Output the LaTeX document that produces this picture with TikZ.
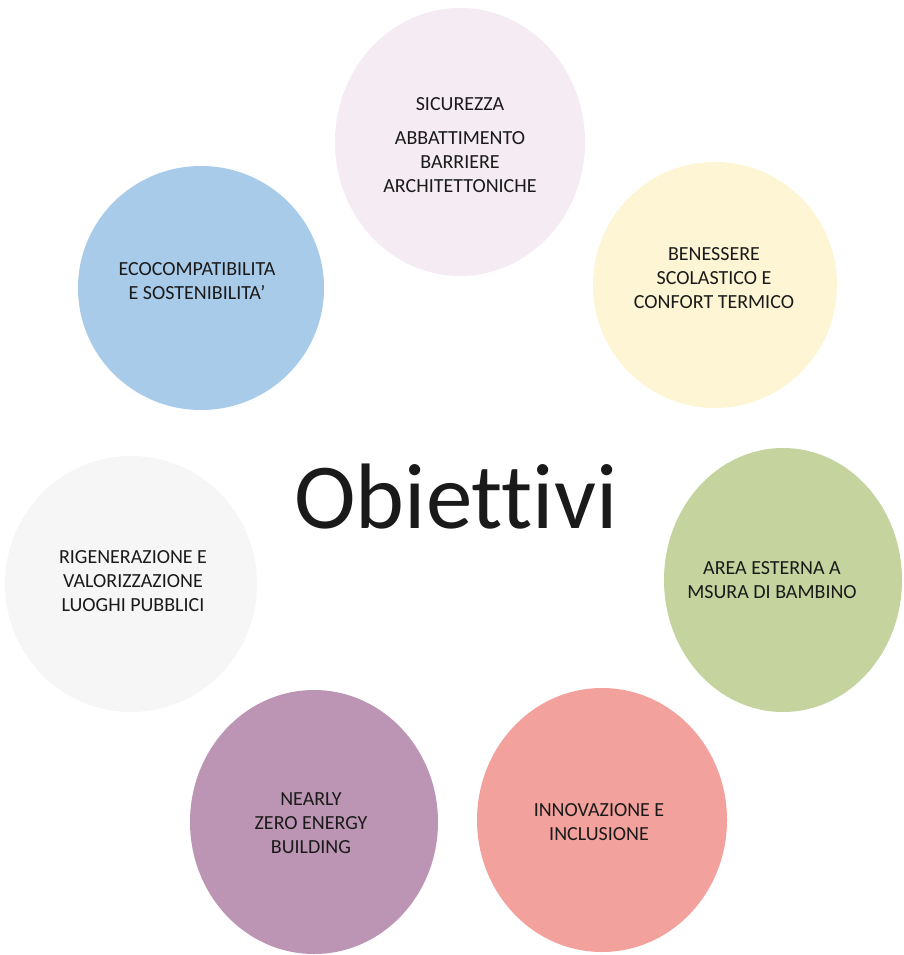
\documentclass[tikz,border=0pt]{standalone}
\usepackage{fontspec}
\setmainfont{Carlito}[Ligatures=NoCommon]
\usetikzlibrary{shapes.geometric}
\definecolor{cTop}{HTML}{F4EBF3}
\definecolor{cBlue}{HTML}{A8CBEA}
\definecolor{cYellow}{HTML}{FDF5D3}
\definecolor{cGreen}{HTML}{C5D39E}
\definecolor{cRed}{HTML}{F3A19C}
\definecolor{cPurple}{HTML}{BC95B4}
\definecolor{cGrey}{HTML}{F6F6F7}
\definecolor{ink}{HTML}{1A1A1A}
\tikzset{
  blob/.style={ellipse, draw=none, inner sep=0pt, fill=#1},
  txt/.style={align=center, text=ink, inner sep=0pt,
    font=\fontsize{20}{24}\selectfont},
  title/.style={text=ink, inner sep=0pt,
    font=\fontsize{93}{100}\selectfont}
}
\begin{document}
\begin{tikzpicture}[x=1pt,y=-1pt]
  \useasboundingbox[fill=white] (0,0) rectangle (904,955);

  % coloured discs
  \node[blob=cTop,    minimum width=250pt, minimum height=268pt] (c1) at (460,142) {};
  \node[blob=cYellow, minimum width=244pt, minimum height=246pt] (c2) at (715,285) {};
  \node[blob=cGreen,  minimum width=238pt, minimum height=264pt] (c3) at (783,580) {};
  \node[blob=cRed,    minimum width=250pt, minimum height=264pt] (c4) at (602,820) {};
  \node[blob=cPurple, minimum width=248pt, minimum height=264pt] (c5) at (314,822) {};
  \node[blob=cGrey,   minimum width=252pt, minimum height=256pt] (c6) at (131,584) {};
  \node[blob=cBlue,   minimum width=246pt, minimum height=244pt] (c7) at (201,288) {};

  % labels
  \node[txt] (t1) at (460,145) {SICUREZZA\\[10pt]ABBATTIMENTO\\BARRIERE\\ARCHITETTONICHE};
  \node[txt] (t2) at (714,278) {BENESSERE\\SCOLASTICO E\\CONFORT TERMICO};
  \node[txt] (t3) at (772,580) {AREA ESTERNA A\\MSURA DI BAMBINO};
  \node[txt] (t4) at (599,822) {INNOVAZIONE E\\INCLUSIONE};
  \node[txt] (t5) at (311,823) {NEARLY\\ZERO ENERGY\\BUILDING};
  \node[txt] (t6) at (133,581) {RIGENERAZIONE E\\VALORIZZAZIONE\\LUOGHI PUBBLICI};
  \node[txt] (t7) at (197,281) {ECOCOMPATIBILITA\\E SOSTENIBILITA’};

  % central title
  \node[title, anchor=base] (obj) at (456,528) {Obiettivi};
\end{tikzpicture}
\end{document}
